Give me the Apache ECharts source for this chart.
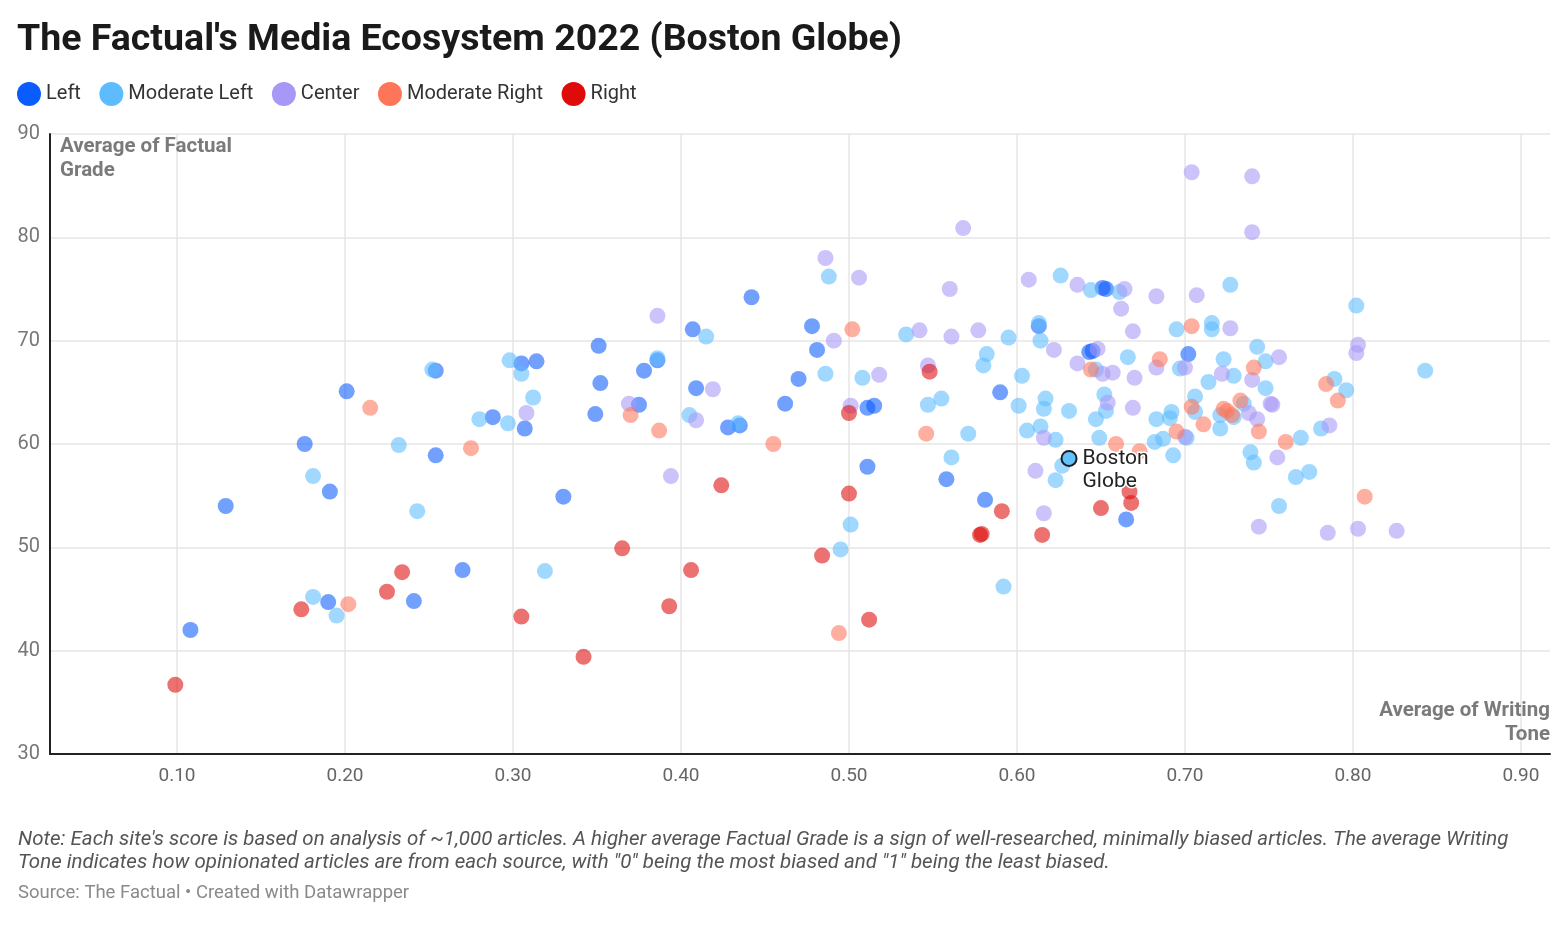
<!DOCTYPE html>
<html>
<head>
<meta charset="utf-8">
<script src="https://cdn.jsdelivr.net/npm/echarts@6/dist/echarts.min.js"></script>
<style>
html,body{margin:0;padding:0;background:#fff;}
#chart{width:1568px;height:935px;}
</style>
</head>
<body>
<div id="chart"></div>
<script>
// ---- DATA (Average of Writing Tone, Average of Factual Grade) ----
const categories = ['Left', 'Moderate Left', 'Center', 'Moderate Right', 'Right'];
const xTicks = [0.1, 0.2, 0.3, 0.4, 0.5, 0.6, 0.7, 0.8, 0.9];
const yTicks = [30, 40, 50, 60, 70, 80, 90];

const leftPts = [[0.108,42.0],[0.129,54.0],[0.176,60.0],[0.191,55.4],[0.201,65.1],[0.190,44.7],[0.241,44.8],[0.254,67.1],[0.254,58.9],[0.270,47.8],[0.288,62.6],[0.305,67.8],[0.307,61.5],[0.314,68.0],[0.330,54.9],[0.349,62.9],[0.351,69.5],[0.352,65.9],[0.375,63.8],[0.378,67.1],[0.386,68.1],[0.407,71.1],[0.409,65.4],[0.428,61.6],[0.435,61.8],[0.442,74.2],[0.462,63.9],[0.470,66.3],[0.478,71.4],[0.481,69.1],[0.511,63.5],[0.515,63.7],[0.511,57.8],[0.558,56.6],[0.581,54.6],[0.590,65.0],[0.613,71.4],[0.643,68.9],[0.645,69.0],[0.651,75.1],[0.653,75.0],[0.665,52.7],[0.702,68.7]];

const modLeftPts = [[0.181,56.9],[0.232,59.9],[0.243,53.5],[0.181,45.2],[0.195,43.4],[0.252,67.2],[0.298,68.1],[0.305,66.8],[0.280,62.4],[0.297,62.0],[0.312,64.5],[0.319,47.7],[0.386,68.3],[0.405,62.8],[0.415,70.4],[0.434,62.0],[0.486,66.8],[0.488,76.2],[0.495,49.8],[0.501,52.2],[0.508,66.4],[0.534,70.6],[0.547,63.8],[0.555,64.4],[0.561,58.7],[0.571,61.0],[0.580,67.6],[0.582,68.7],[0.592,46.2],[0.595,70.3],[0.601,63.7],[0.603,66.6],[0.606,61.3],[0.613,71.7],[0.614,70.0],[0.614,61.7],[0.617,64.4],[0.616,63.4],[0.623,60.4],[0.623,56.5],[0.626,76.3],[0.627,57.9],[0.631,63.2],[0.644,74.9],[0.647,67.2],[0.647,62.4],[0.649,60.6],[0.652,64.8],[0.653,63.2],[0.661,74.7],[0.666,68.4],[0.682,60.2],[0.683,62.4],[0.687,60.5],[0.691,62.5],[0.692,63.1],[0.693,58.9],[0.695,71.1],[0.697,67.3],[0.701,60.6],[0.706,64.6],[0.706,63.1],[0.714,66.0],[0.716,71.7],[0.716,71.1],[0.721,62.8],[0.721,61.5],[0.723,68.2],[0.727,75.4],[0.729,66.6],[0.729,62.6],[0.735,63.9],[0.739,59.2],[0.741,58.2],[0.743,69.4],[0.748,68.0],[0.748,65.4],[0.756,54.0],[0.766,56.8],[0.769,60.6],[0.774,57.3],[0.781,61.5],[0.789,66.3],[0.796,65.2],[0.802,73.4],[0.843,67.1]];

const centerPts = [[0.308,63.0],[0.369,63.9],[0.386,72.4],[0.394,56.9],[0.409,62.3],[0.419,65.3],[0.486,78.0],[0.491,70.0],[0.501,63.7],[0.506,76.1],[0.518,66.7],[0.542,71.0],[0.547,67.6],[0.560,75.0],[0.561,70.4],[0.568,80.9],[0.577,71.0],[0.607,75.9],[0.611,57.4],[0.616,60.6],[0.616,53.3],[0.622,69.1],[0.636,75.4],[0.636,67.8],[0.648,69.2],[0.651,66.8],[0.654,64.0],[0.657,66.9],[0.662,73.1],[0.664,75.0],[0.669,70.9],[0.669,63.5],[0.670,66.4],[0.683,74.3],[0.683,67.4],[0.700,67.4],[0.700,60.7],[0.704,86.3],[0.707,74.4],[0.722,66.8],[0.727,71.2],[0.738,63.0],[0.740,85.9],[0.740,80.5],[0.740,66.2],[0.743,62.4],[0.744,52.0],[0.751,63.9],[0.752,63.8],[0.755,58.7],[0.756,68.4],[0.785,51.4],[0.786,61.8],[0.802,68.8],[0.803,69.6],[0.803,51.8],[0.826,51.6]];

const modRightPts = [[0.202,44.5],[0.215,63.5],[0.275,59.6],[0.370,62.8],[0.387,61.3],[0.455,60.0],[0.494,41.7],[0.502,71.1],[0.546,61.0],[0.644,67.2],[0.659,60.0],[0.673,59.3],[0.685,68.2],[0.695,61.2],[0.704,71.4],[0.704,63.6],[0.711,61.9],[0.723,63.4],[0.725,63.2],[0.728,62.8],[0.733,64.2],[0.741,67.4],[0.744,61.2],[0.760,60.2],[0.784,65.8],[0.791,64.2],[0.807,54.9]];

const rightPts = [[0.099,36.7],[0.174,44.0],[0.225,45.7],[0.234,47.6],[0.305,43.3],[0.342,39.4],[0.365,49.9],[0.393,44.3],[0.406,47.8],[0.424,56.0],[0.484,49.2],[0.500,63.0],[0.500,55.2],[0.512,43.0],[0.548,67.0],[0.578,51.2],[0.579,51.3],[0.591,53.5],[0.615,51.2],[0.650,53.8],[0.667,55.4],[0.668,54.3]];

const highlightName = 'Boston Globe';
const highlightPt = [0.631, 58.6];

// ---- STYLE ----
const colors = ['#0b5cff', '#5cbcff', '#a797f7', '#ff7559', '#df0b0b'];
const FONT = 'Roboto, "Noto Sans", sans-serif';

const seriesData = [leftPts, modLeftPts, centerPts, modRightPts, rightPts];

const series = categories.map((name, i) => ({
  name: name,
  type: 'scatter',
  data: seriesData[i],
  symbolSize: 16,
  itemStyle: { color: colors[i], opacity: 0.58 },
  emphasis: { disabled: true },
  z: 2
}));

series.push({
  name: highlightName,
  type: 'scatter',
  data: [highlightPt],
  symbolSize: 15,
  itemStyle: { color: '#62c2ff', borderColor: '#1d1d1d', borderWidth: 2, opacity: 1 },
  label: {
    show: true,
    position: 'right',
    distance: 5,
    offset: [0, 12],
    formatter: 'Boston\nGlobe',
    fontFamily: FONT,
    fontSize: 21,
    lineHeight: 23,
    color: '#222',
    textBorderColor: '#fff',
    textBorderWidth: 3
  },
  z: 5
});

const chart = echarts.init(document.getElementById('chart'), null, { renderer: 'canvas' });
chart.setOption({
  animation: false,
  backgroundColor: '#fff',
  textStyle: { fontFamily: FONT },
  title: {
    text: "The Factual's Media Ecosystem 2022 (Boston Globe)",
    left: 12,
    top: 17,
    textStyle: { fontFamily: FONT, fontSize: 37.5, fontWeight: 'bold', color: '#1a1a1a' }
  },
  legend: {
    data: categories,
    left: 12,
    top: 77,
    icon: 'circle',
    itemWidth: 24,
    itemHeight: 24,
    itemGap: 18.5,
    itemStyle: { opacity: 1 },
    textStyle: { fontFamily: FONT, fontSize: 20, color: '#333' },
    selectedMode: false
  },
  grid: { left: 50, right: 18, top: 134, bottom: 181, containLabel: false },
  xAxis: {
    type: 'value',
    min: 0.0244,
    max: 0.9173,
    axisLine: { show: true, onZero: false, lineStyle: { color: '#222', width: 2 } },
    axisTick: { show: false, customValues: xTicks },
    axisLabel: {
      customValues: xTicks,
      formatter: v => v.toFixed(2),
      fontFamily: FONT, fontSize: 19, color: '#666', margin: 13
    },
    splitLine: { show: true, lineStyle: { color: '#e6e6e6', width: 1.5 } }
  },
  yAxis: {
    type: 'value',
    min: 30,
    max: 90,
    interval: 10,
    axisLine: { show: true, onZero: false, lineStyle: { color: '#222', width: 2 } },
    axisTick: { show: false },
    axisLabel: { fontFamily: FONT, fontSize: 20, color: '#777', margin: 10 },
    splitLine: { show: true, lineStyle: { color: '#e6e6e6', width: 1.5 } }
  },
  graphic: [
    {
      type: 'text', left: 60, top: 135, z: 10,
      style: { text: 'Average of Factual\nGrade', fontFamily: FONT, fontSize: 20.5, fontWeight: 'bold', fill: '#7a7a7a', lineHeight: 24 }
    },
    {
      type: 'text', right: 18, top: 699, z: 10,
      style: { text: 'Average of Writing', fontFamily: FONT, fontSize: 20.5, fontWeight: 'bold', fill: '#7a7a7a', lineHeight: 24 }
    },
    {
      type: 'text', right: 18, top: 723, z: 10,
      style: { text: 'Tone', fontFamily: FONT, fontSize: 20.5, fontWeight: 'bold', fill: '#7a7a7a', lineHeight: 24 }
    },
    {
      type: 'text', left: 18, top: 828,
      style: {
        text: 'Note: Each site\'s score is based on analysis of ~1,000 articles. A higher average Factual Grade is a sign of well-researched, minimally biased articles. The average Writing\nTone indicates how opinionated articles are from each source, with "0" being the most biased and "1" being the least biased.',
        fontFamily: FONT, fontSize: 20.5, fontStyle: 'italic', fill: '#555', lineHeight: 23.5
      }
    },
    {
      type: 'text', left: 18, top: 884,
      style: { text: 'Source: The Factual \u2022 Created with Datawrapper', fontFamily: FONT, fontSize: 18.5, fill: '#8a8a8a' }
    }
  ],
  series: series
});
</script>
</body>
</html>
